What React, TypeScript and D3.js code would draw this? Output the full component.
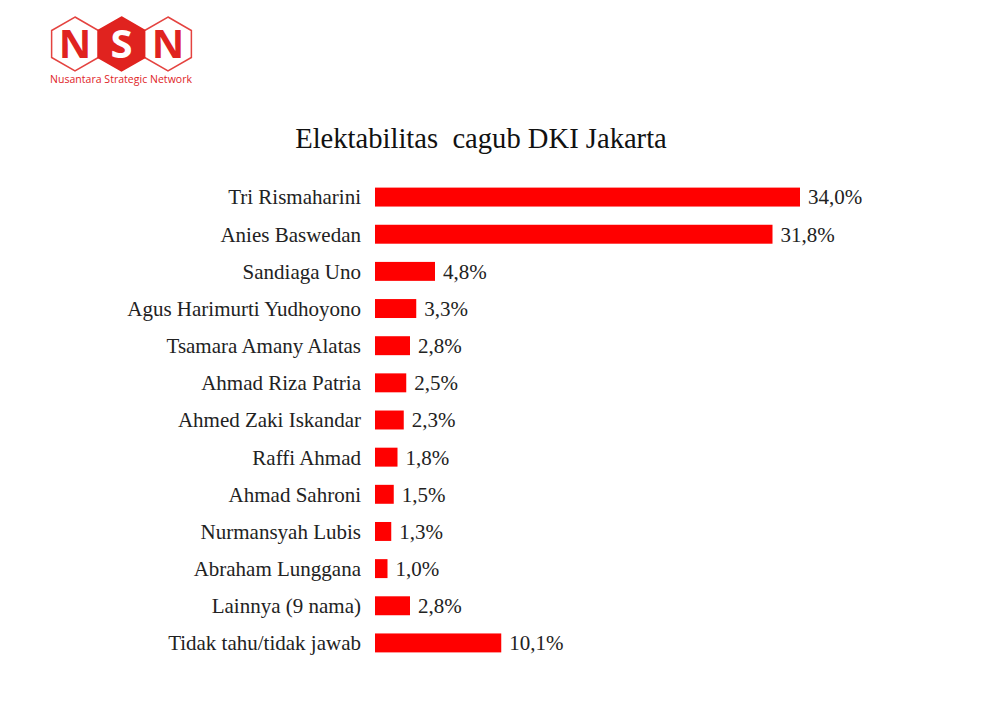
import React from "react";
import * as d3 from "d3";

const categories = [
  "Tri Rismaharini",
  "Anies Baswedan",
  "Sandiaga Uno",
  "Agus Harimurti Yudhoyono",
  "Tsamara Amany Alatas",
  "Ahmad Riza Patria",
  "Ahmed Zaki Iskandar",
  "Raffi Ahmad",
  "Ahmad Sahroni",
  "Nurmansyah Lubis",
  "Abraham Lunggana",
  "Lainnya (9 nama)",
  "Tidak tahu/tidak jawab",
];
const values = [34.0, 31.8, 4.8, 3.3, 2.8, 2.5, 2.3, 1.8, 1.5, 1.3, 1.0, 2.8, 10.1];
const title = "Elektabilitas  cagub DKI Jakarta";
const logoLetters = ["N", "S", "N"];
const logoText = "Nusantara Strategic Network";

const W = 1000;
const H = 726;
const RED = "#ff0000";
const LOGO_RED = "#e0231f";
const SERIF = "'Liberation Serif', 'DejaVu Serif', serif";

export default function App() {
  const x = d3.scaleLinear().domain([0, 34]).range([375, 800]);
  const y = d3
    .scaleBand<string>()
    .domain(categories)
    .range([178.5, 661.5])
    .paddingInner(0.49)
    .paddingOuter(0.245);
  const fmt = (v: number) => v.toFixed(1).replace(".", ",") + "%";

  const hexR = 27;
  const hexCenters = [75, 121.5, 168];
  const hexPath = (cx: number, cy: number) => {
    const pts: [number, number][] = [];
    for (let i = 0; i < 6; i++) {
      const a = (Math.PI / 180) * (60 * i - 90);
      pts.push([cx + hexR * Math.cos(a), cy + hexR * Math.sin(a)]);
    }
    return "M" + pts.map((p) => p.join(",")).join("L") + "Z";
  };

  return (
    <svg width={W} height={H} style={{ display: "block", position: "absolute", left: 0, top: 0, background: "#fff" }}>
      <rect width={W} height={H} fill="#fff" />
      <g>
        {hexCenters.map((cx, i) => (
          <path
            key={i}
            d={hexPath(cx, 44)}
            fill={i === 1 ? LOGO_RED : "#fff"}
            stroke={LOGO_RED}
            strokeWidth={1.5}
            opacity={i === 1 ? 1 : 0.85}
          />
        ))}
        {hexCenters.map((cx, i) => (
          <text
            key={"t" + i}
            x={cx}
            y={58}
            textAnchor="middle"
            fontFamily="'Open Sans', 'DejaVu Sans', sans-serif"
            fontWeight={700}
            fontSize={40}
            fill={i === 1 ? "#fff" : LOGO_RED}
          >
            {logoLetters[i]}
          </text>
        ))}
        <text
          x={50}
          y={83}
          fontFamily="'Open Sans', 'DejaVu Sans', sans-serif"
          fontSize={10.5}
          fill={LOGO_RED}
          textLength={142}
        >
          {logoText}
        </text>
      </g>
      <text
        x={481}
        y={148}
        textAnchor="middle"
        fontFamily={SERIF}
        fontSize={28.6}
        fill="#111"
        style={{ whiteSpace: "pre" }}
      >
        {title}
      </text>
      {categories.map((c, i) => {
        const yy = y(c)!;
        const bh = y.bandwidth();
        const cy = yy + bh / 2;
        return (
          <g key={c}>
            <rect x={x(0)} y={yy} width={x(values[i]) - x(0)} height={bh} fill={RED} />
            <text
              x={361}
              y={cy}
              dy="0.35em"
              textAnchor="end"
              fontFamily={SERIF}
              fontSize={21}
              fill="#222"
            >
              {c}
            </text>
            <text
              x={x(values[i]) + 8}
              y={cy}
              dy="0.35em"
              fontFamily={SERIF}
              fontSize={21}
              fill="#222"
            >
              {fmt(values[i])}
            </text>
          </g>
        );
      })}
    </svg>
  );
}
